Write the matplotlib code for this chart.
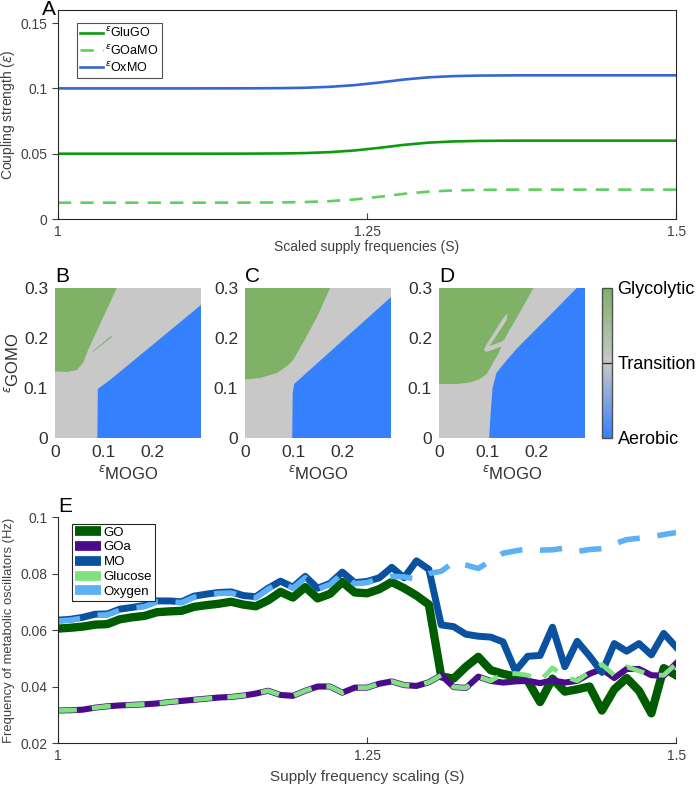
import numpy as np
import matplotlib
matplotlib.use('Agg')
import matplotlib.pyplot as plt
from matplotlib.colors import LinearSegmentedColormap
from matplotlib.cm import ScalarMappable

plt.rcParams['font.family'] = ['Liberation Sans', 'DejaVu Sans']
plt.rcParams['mathtext.fontset'] = 'dejavusans'

# ---- panel A: coupling strengths vs scaled supply frequency
s_a = [1.0, 1.05, 1.1, 1.15, 1.18, 1.2, 1.22, 1.24, 1.26, 1.28, 1.3, 1.32, 1.34, 1.37, 1.4, 1.45, 1.5]
eps_gluGO = [0.05, 0.05, 0.05, 0.05005, 0.0502, 0.0505, 0.0512, 0.0525, 0.0545, 0.0568, 0.0585,
             0.0594, 0.0598, 0.06, 0.06, 0.06, 0.06]
eps_goaMO = [0.0125, 0.0125, 0.0125, 0.01255, 0.0127, 0.013, 0.0137, 0.015, 0.017, 0.0193, 0.021,
             0.0219, 0.0223, 0.0225, 0.0225, 0.0225, 0.0225]
eps_oxMO = [0.1, 0.1, 0.1, 0.10005, 0.1002, 0.1005, 0.1012, 0.1025, 0.1045, 0.1068, 0.1085,
            0.1094, 0.1098, 0.11, 0.11, 0.11, 0.11]

# ---- panels B-D: regime outlines in (eps_MOGO, eps_GOMO)
b_glyco = [(0, 0.3), (0, 0.133), (0.025, 0.132), (0.045, 0.136), (0.0575, 0.15), (0.068, 0.176), (0.127, 0.3)]
b_sliver = [(0.076, 0.171), (0.112, 0.198), (0.118, 0.203), (0.114, 0.203), (0.079, 0.175)]
b_aero = [(0.087, 0), (0.3, 0), (0.3, 0.266), (0.113, 0.116), (0.088, 0.098)]

c_glyco = [(0, 0.3), (0, 0.117), (0.031, 0.12), (0.066, 0.13), (0.088, 0.145), (0.099, 0.156),
           (0.119, 0.19), (0.148, 0.242), (0.175, 0.3)]
c_aero = [(0.097, 0), (0.3, 0), (0.3, 0.282), (0.101, 0.108), (0.098, 0.09)]

d_glyco = [(0, 0.3), (0, 0.108), (0.036, 0.108), (0.064, 0.111), (0.084, 0.118), (0.098, 0.128),
           (0.108, 0.145), (0.122, 0.169), (0.139, 0.206), (0.163, 0.246), (0.194, 0.3)]
d_spike = [(0.141, 0.250), (0.139, 0.236), (0.104, 0.184), (0.097, 0.186), (0.132, 0.240)]
d_hook = [(0.097, 0.186), (0.092, 0.176), (0.097, 0.172), (0.126, 0.182), (0.143, 0.190),
          (0.143, 0.202), (0.127, 0.192), (0.104, 0.184)]
d_aero = [(0.103, 0), (0.3, 0), (0.3, 0.3), (0.283, 0.3), (0.208, 0.226), (0.160, 0.179),
          (0.136, 0.152), (0.118, 0.13), (0.11, 0.1), (0.106, 0.05)]

# ---- panel E: oscillator frequencies
s_e = [1.00, 1.01, 1.02, 1.03, 1.04, 1.05, 1.06, 1.07, 1.08, 1.09, 1.10, 1.11, 1.12, 1.13, 1.14,
       1.15, 1.16, 1.17, 1.18, 1.19, 1.20, 1.21, 1.22, 1.23, 1.24, 1.25, 1.26, 1.27, 1.28, 1.29,
       1.30, 1.31, 1.32, 1.33, 1.34, 1.35, 1.36, 1.37, 1.38, 1.39, 1.40, 1.41, 1.42, 1.43, 1.44,
       1.45, 1.46, 1.47, 1.48, 1.49, 1.50]
f_go = [0.0605, 0.0608, 0.0612, 0.0619, 0.0621, 0.0638, 0.0645, 0.0650, 0.0663, 0.0666, 0.0668,
        0.0682, 0.0688, 0.0693, 0.0700, 0.0690, 0.0684, 0.0705, 0.0735, 0.0715, 0.0752, 0.0712,
        0.0728, 0.0770, 0.0733, 0.0730, 0.0745, 0.0770, 0.0748, 0.0722, 0.0690, 0.0436, 0.0428,
        0.0470, 0.0505, 0.0458, 0.0445, 0.0435, 0.0420, 0.0345, 0.0428, 0.0382, 0.0390, 0.0400,
        0.0315, 0.0390, 0.0430, 0.0385, 0.0305, 0.0465, 0.0440]
f_goa = [0.0315, 0.0316, 0.0318, 0.0325, 0.0330, 0.0333, 0.0335, 0.0337, 0.0340, 0.0345, 0.0349,
         0.0353, 0.0357, 0.0361, 0.0363, 0.0368, 0.0375, 0.0385, 0.0370, 0.0367, 0.0385, 0.0400,
         0.0400, 0.0378, 0.0396, 0.0396, 0.0410, 0.0418, 0.0405, 0.0402, 0.0415, 0.0440, 0.0398,
         0.0395, 0.0435, 0.0420, 0.0414, 0.0418, 0.0420, 0.0412, 0.0422, 0.0414, 0.0420, 0.0445,
         0.0462, 0.0430, 0.0462, 0.0462, 0.0440, 0.0438, 0.0482]
f_mo = [0.0635, 0.0638, 0.0645, 0.0656, 0.0657, 0.0674, 0.0680, 0.0687, 0.0703, 0.0703, 0.0700,
        0.0720, 0.0727, 0.0733, 0.0735, 0.0722, 0.0718, 0.0748, 0.0773, 0.0752, 0.0790, 0.0748,
        0.0765, 0.0805, 0.0768, 0.0772, 0.0785, 0.0822, 0.0785, 0.0845, 0.0815, 0.0618, 0.0612,
        0.0585, 0.0578, 0.0575, 0.0558, 0.0455, 0.0507, 0.0510, 0.0610, 0.0470, 0.0560, 0.0508,
        0.0450, 0.0552, 0.0525, 0.0552, 0.0512, 0.0588, 0.0540]
f_glucose = [0.0315, 0.0316, 0.0318, 0.0325, 0.0330, 0.0333, 0.0335, 0.0337, 0.0340, 0.0345, 0.0349,
             0.0353, 0.0357, 0.0361, 0.0363, 0.0368, 0.0375, 0.0385, 0.0370, 0.0367, 0.0385, 0.0400,
             0.0400, 0.0378, 0.0396, 0.0396, 0.0410, 0.0418, 0.0405, 0.0402, 0.0415, 0.0440, 0.0398,
             0.0395, 0.0435, 0.0420, 0.0445, 0.0446, 0.0440, 0.0420, 0.0466, 0.0435, 0.0420, 0.0452,
             0.0478, 0.0440, 0.0470, 0.0455, 0.0440, 0.0440, 0.0480]
f_oxygen = [0.0632, 0.0635, 0.0642, 0.0652, 0.0654, 0.0670, 0.0677, 0.0683, 0.0700, 0.0700, 0.0697,
            0.0716, 0.0723, 0.0730, 0.0731, 0.0719, 0.0714, 0.0745, 0.0768, 0.0748, 0.0785, 0.0745,
            0.0761, 0.0800, 0.0764, 0.0768, 0.0782, 0.0790, 0.0788, 0.0780, 0.0800, 0.0808, 0.0840,
            0.0830, 0.0818, 0.0845, 0.0872, 0.0880, 0.0888, 0.0883, 0.0884, 0.0890, 0.0878, 0.0885,
            0.0888, 0.0905, 0.0920, 0.0925, 0.0930, 0.0938, 0.0945]

tick_col = '#404040'
green_reg = '#7fb167'
grey_reg = '#c8c8c8'
blue_reg = '#3580fc'

fig = plt.figure(figsize=(6.97, 7.89), dpi=100)


def style_axes(ax, box=True):
    for sp in ax.spines.values():
        sp.set_color('#262626')
        sp.set_linewidth(0.8)
    if not box:
        ax.spines['top'].set_visible(False)
        ax.spines['right'].set_visible(False)
    ax.tick_params(axis='x', direction='in', length=4, colors=tick_col, labelsize=10, pad=4)
    ax.tick_params(axis='y', direction='out', length=4, colors=tick_col, labelsize=10)
    ax.tick_params(top=False, right=False)


# ---- A
axA = fig.add_axes([0.0832, 0.7224, 0.8868, 0.2649])
axA.plot(s_a, eps_gluGO, color='#0e9a0e', lw=1.9, label='$^{\\epsilon}$GluGO')
axA.plot(s_a, eps_goaMO, color='#5fcf5f', lw=1.9, dashes=(5, 3.5), label='$^{\\epsilon}$GOaMO')
axA.plot(s_a, eps_oxMO, color='#3466d4', lw=1.9, label='$^{\\epsilon}$OxMO')
axA.set_xlim(1, 1.5)
axA.set_ylim(0, 0.16)
axA.set_xticks([1, 1.25, 1.5])
axA.set_xticklabels(['1', '1.25', '1.5'])
axA.set_yticks([0, 0.05, 0.1, 0.15])
axA.set_yticklabels(['0', '0.05', '0.1', '0.15'])
style_axes(axA, box=True)
axA.set_xlabel('Scaled supply frequencies (S)', fontsize=10, color=tick_col, labelpad=1)
axA.set_ylabel('Coupling strength ($\\epsilon$)', fontsize=10, color=tick_col)
axA.yaxis.set_label_coords(-0.066, 0.5)
legA = axA.legend(loc='upper left', bbox_to_anchor=(0.02, 0.97), fontsize=9, frameon=True,
                  fancybox=False, edgecolor='#262626', handlelength=1.8, borderpad=0.3,
                  labelspacing=0.25, handletextpad=0.2)
legA.get_frame().set_linewidth(0.8)
fig.text(0.060, 0.981, 'A', fontsize=15, color='black')

# ---- B, C, D
panels = [('B', 0.0789, b_glyco, [b_sliver], b_aero, []),
          ('C', 0.3515, c_glyco, [], c_aero, []),
          ('D', 0.6299, d_glyco, [], d_aero, [d_spike, d_hook])]
for letter, left, glyco, extra_green, aero, grey_holes in panels:
    ax = fig.add_axes([left, 0.4449, 0.2095, 0.1901])
    ax.set_facecolor(grey_reg)
    gx, gy = zip(*glyco)
    ax.fill(gx, gy, color=green_reg, lw=0)
    for poly in extra_green:
        px, py = zip(*poly)
        ax.fill(px, py, color=green_reg, lw=0)
    for poly in grey_holes:
        px, py = zip(*poly)
        ax.fill(px, py, color=grey_reg, lw=0)
    ax_, ay_ = zip(*aero)
    ax.fill(ax_, ay_, color=blue_reg, lw=0)
    ax.set_xlim(0, 0.3)
    ax.set_ylim(0, 0.3)
    for sp in ax.spines.values():
        sp.set_visible(False)
    ax.set_xticks([0, 0.1, 0.2])
    ax.set_xticklabels(['0', '0.1', '0.2'])
    ax.set_yticks([0, 0.1, 0.2, 0.3])
    ax.set_yticklabels(['0', '0.1', '0.2', '0.3'])
    ax.tick_params(length=0, labelsize=12.5, colors='#303030', pad=5)
    ax.set_xlabel('$^{\\epsilon}$MOGO', fontsize=12, color='#303030', labelpad=3)
    if letter == 'B':
        ax.set_ylabel('$^{\\epsilon}$GOMO', fontsize=12, color='#303030', labelpad=2)
    ax.text(0.0, 1.01, letter, transform=ax.transAxes, ha='left', va='bottom', fontsize=15)

# colour bar
cmap = LinearSegmentedColormap.from_list('regime', [blue_reg, grey_reg, green_reg])
cax = fig.add_axes([0.8637, 0.4449, 0.0143, 0.1901])
cb = fig.colorbar(ScalarMappable(cmap=cmap), cax=cax, ticks=[0, 0.5, 1])
cb.ax.set_yticklabels(['Aerobic', 'Transition', 'Glycolytic'])
cb.ax.tick_params(length=0, labelsize=13, colors='black', pad=4)
cb.outline.set_edgecolor('#505050')
cb.outline.set_linewidth(1.0)
cax.axhline(0.5, color='#303030', lw=1.0)

# ---- E
axE = fig.add_axes([0.0832, 0.0583, 0.8868, 0.2864])
axE.plot(s_e, f_go, color='#005c00', lw=6.0, label='GO')
axE.plot(s_e, f_goa, color='#4a0c8a', lw=4.4, label='GOa')
axE.plot(s_e, f_mo, color='#0a52a0', lw=5.0, label='MO')
axE.plot(s_e, f_glucose, color='#80e27e', lw=3.4, dashes=(4, 3.2), label='Glucose')
axE.plot(s_e, f_oxygen, color='#5cb0f5', lw=4.0, dashes=(4, 3.2), label='Oxygen')
axE.set_xlim(1, 1.5)
axE.set_ylim(0.02, 0.1)
axE.set_xticks([1, 1.25, 1.5])
axE.set_xticklabels(['1', '1.25', '1.5'])
axE.set_yticks([0.02, 0.04, 0.06, 0.08, 0.1])
axE.set_yticklabels(['0.02', '0.04', '0.06', '0.08', '0.1'])
style_axes(axE, box=False)
axE.set_xlabel('Supply frequency scaling (S)', fontsize=11, color=tick_col, labelpad=5)
axE.set_ylabel('Frequency of metabolic oscillators (Hz)', fontsize=9.4, color=tick_col)
axE.yaxis.set_label_coords(-0.07, 0.5)
handles = [plt.Line2D([], [], color=c, lw=7, solid_capstyle='butt')
           for c in ['#005c00', '#4a0c8a', '#0a52a0', '#80e27e', '#5cb0f5']]
legE = axE.legend(handles, ['GO', 'GOa', 'MO', 'Glucose', 'Oxygen'], loc='upper left',
                  bbox_to_anchor=(0.012, 1.0), fontsize=9.5, frameon=True, fancybox=False,
                  edgecolor='#262626', handlelength=2.0, borderpad=0.2, labelspacing=0.2,
                  handletextpad=0.2, framealpha=1)
legE.get_frame().set_linewidth(0.8)
axE.text(0.0, 1.005, 'E', transform=axE.transAxes, ha='left', va='bottom', fontsize=15)

fig.savefig('out.png', dpi=100)
